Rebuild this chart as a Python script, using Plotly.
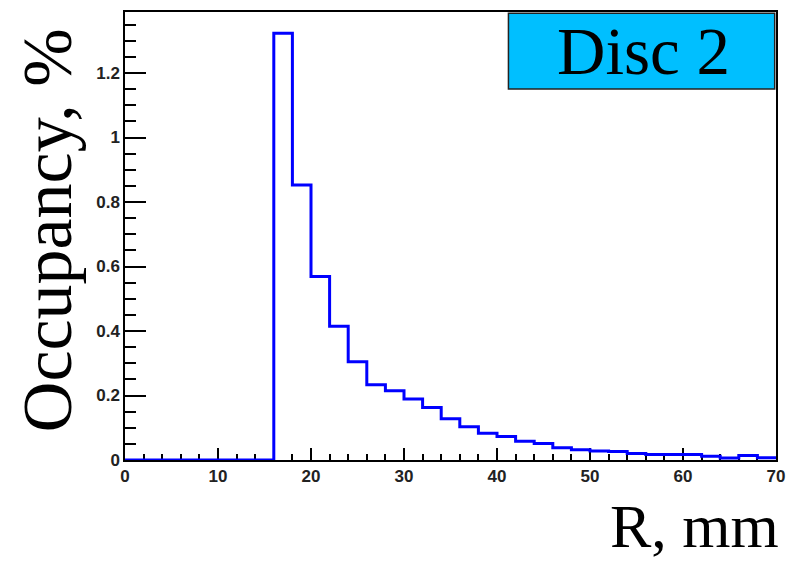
import plotly.graph_objects as go

# Histogram of occupancy vs radius, 2 mm bins from 0 to 70 mm
bin_edges = list(range(0, 72, 2))
occupancy = [
    0.0, 0.0, 0.0, 0.0, 0.0, 0.0, 0.0, 0.0,          # 0-16
    1.323, 0.853, 0.569, 0.415, 0.305, 0.233, 0.215,  # 16-30
    0.189, 0.163, 0.128, 0.103, 0.083, 0.073, 0.058,  # 30-44
    0.051, 0.038, 0.032, 0.028, 0.026, 0.020, 0.017,  # 44-58
    0.017, 0.017, 0.012, 0.006, 0.014, 0.007,         # 58-70
]
x_tick_vals = [0, 10, 20, 30, 40, 50, 60, 70]
x_tick_text = ["0", "10", "20", "30", "40", "50", "60", "70"]
y_tick_vals = [0, 0.2, 0.4, 0.6, 0.8, 1.0, 1.2]
y_tick_text = ["0", "0.2", "0.4", "0.6", "0.8", "1", "1.2"]
label_text = "Disc 2"
x_title = "R, mm"
y_title = "Occupancy, %"

# step outline: each bin's left edge, plus the closing right edge
step_x = bin_edges
step_y = occupancy + [occupancy[-1]]
y_max = max(occupancy) * 1.05

serif = "Liberation Serif, Times New Roman, serif"
sans = "Liberation Sans, Arial, sans-serif"

fig = go.Figure()
fig.add_trace(go.Scatter(
    x=step_x, y=step_y, mode="lines", line_shape="hv",
    line=dict(color="#0000ff", width=3), cliponaxis=False,
    showlegend=False, hoverinfo="skip",
))

fig.update_layout(
    width=795, height=562,
    margin=dict(l=125, r=15, t=10, b=102),
    paper_bgcolor="white", plot_bgcolor="white",
    xaxis=dict(
        range=[0, 70], tickvals=x_tick_vals, ticktext=x_tick_text,
        ticks="inside", ticklen=12, tickwidth=1.5, tickcolor="black",
        minor=dict(dtick=2, tick0=0, ticks="inside", ticklen=6,
                   tickwidth=1.5, tickcolor="black"),
        showline=True, linecolor="black", linewidth=1.5, mirror=True,
        showgrid=False, zeroline=False, layer="below traces",
        tickfont=dict(family=sans, size=17, color="#222", weight="bold"),
    ),
    yaxis=dict(
        range=[0, y_max], tickvals=y_tick_vals, ticktext=y_tick_text,
        ticks="inside", ticklen=21, tickwidth=1.5, tickcolor="black",
        minor=dict(dtick=0.05, tick0=0, ticks="inside", ticklen=11,
                   tickwidth=1.5, tickcolor="black"),
        showline=True, linecolor="black", linewidth=1.5, mirror=True,
        showgrid=False, zeroline=False, layer="below traces",
        tickfont=dict(family=sans, size=17, color="#222", weight="bold"),
    ),
    shapes=[dict(
        type="rect", xref="paper", yref="paper",
        x0=0.589, x1=0.998, y0=0.828, y1=0.997,
        fillcolor="#00bfff", line=dict(color="#222", width=1.5),
    )],
    annotations=[
        dict(text=label_text, xref="paper", yref="paper",
             x=0.797, y=0.912, xanchor="center", yanchor="middle",
             showarrow=False, font=dict(family=serif, size=67, color="black")),
        dict(text=x_title, xref="paper", yref="paper",
             x=1.007, y=-0.147, xanchor="right", yanchor="middle",
             showarrow=False, font=dict(family=serif, size=62, color="black")),
        dict(text=y_title, xref="paper", yref="paper",
             x=-0.119, y=0.512, xanchor="center", yanchor="middle",
             textangle=-90, showarrow=False,
             font=dict(family=serif, size=70, color="black")),
    ],
)

fig.write_html("out.html")
